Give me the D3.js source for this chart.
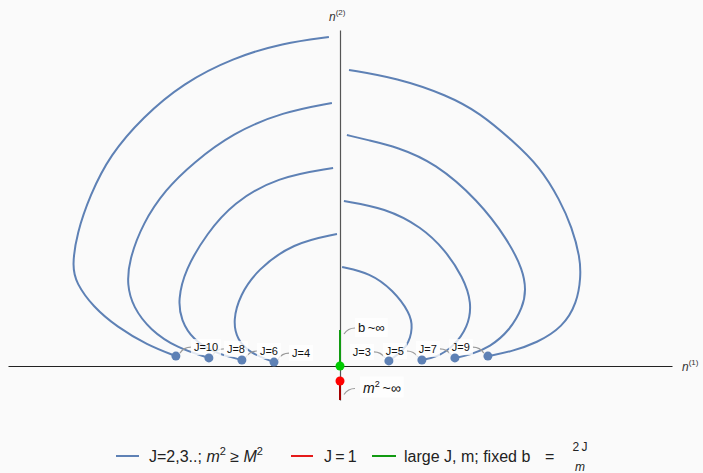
<!DOCTYPE html>
<html>
<head>
<meta charset="utf-8">
<script src="https://cdn.jsdelivr.net/npm/d3@7"></script>
<style>
  body { margin: 0; background: #fafafa; }
  svg { display: block; font-family: "Liberation Sans", Arial, sans-serif; }
</style>
</head>
<body>
<svg id="chart" width="703" height="473"></svg>
<script>
// points, [n1, n2]
const curveJ3 = [[0.07,3.30],[1.00,3.10],[1.77,2.53],[2.33,1.77],[2.43,1.30],[2.27,0.63],[1.63,0.17]];
const curveJ5 = [[0.13,5.50],[1.50,5.27],[2.73,4.63],[3.50,3.87],[4.10,2.97],[4.40,2.10],[4.27,1.30],[3.77,0.63],[3.23,0.30],[2.73,0.20]];
const curveJ7 = [[0.23,7.70],[0.93,7.53],[1.90,7.30],[3.17,6.77],[4.60,5.53],[5.60,4.20],[6.10,3.20],[6.20,2.53],[6.10,1.97],[5.67,1.20],[5.00,0.63],[4.33,0.37],[3.83,0.27]];
const curveJ9 = [[0.30,9.87],[1.90,9.60],[3.57,9.03],[4.67,8.43],[5.73,7.53],[6.67,6.63],[7.33,5.53],[7.73,4.63],[8.00,3.63],[8.03,2.97],[7.90,2.10],[7.43,1.30],[6.57,0.77],[5.67,0.47],[4.93,0.33]];
const curveJ4 = [[-0.10,4.40],[-1.57,4.10],[-2.77,3.20],[-3.33,2.37],[-3.57,1.53],[-3.43,0.87],[-3.00,0.43],[-2.20,0.13]];
const curveJ6 = [[-0.23,6.60],[-2.10,6.30],[-3.57,5.43],[-4.43,4.43],[-5.17,3.20],[-5.40,2.20],[-5.30,1.53],[-4.90,0.87],[-4.17,0.43],[-3.27,0.20]];
const curveJ8 = [[-0.27,8.77],[-1.90,8.47],[-3.57,7.77],[-4.90,6.77],[-5.83,5.87],[-6.57,4.77],[-7.03,3.53],[-7.10,2.70],[-6.90,1.97],[-6.33,1.20],[-5.43,0.60],[-4.37,0.27]];
const curveJ10 = [[-0.37,10.97],[-1.90,10.77],[-3.57,10.27],[-5.23,9.43],[-6.57,8.30],[-7.67,7.03],[-8.33,5.70],[-8.77,4.43],[-8.93,3.33],[-8.80,2.77],[-8.23,1.97],[-7.43,1.30],[-6.43,0.70],[-5.47,0.33]];

const jValues = [3, 5, 7, 9, 4, 6, 8, 10];
const jCurves = [curveJ3, curveJ5, curveJ7, curveJ9, curveJ4, curveJ6, curveJ8, curveJ10];

// J=1 point and the large-J segment
const redPoint = [0, -0.5];
const redSegment = [[0, -0.5], [0, -1.13]];
const greenPoint = [0, 0];
const greenSegment = [[0, 0], [0, 1.2]];

const blue = "#5e81b5", red = "#e51a1a", green = "#119a11";

const svg = d3.select("#chart");
const x = d3.scaleLinear().domain([-332 / 30, 332 / 30]).range([8, 672]);
const y = d3.scaleLinear().domain([-34 / 30, 336 / 30]).range([400, 30]);

// axes, no ticks
svg.append("g")
    .attr("transform", "translate(0," + y(0) + ")")
    .call(d3.axisBottom(x).tickValues([]).tickSizeOuter(0))
    .select(".domain").attr("stroke", "#222").attr("stroke-width", 1);
svg.append("g")
    .attr("transform", "translate(" + x(0) + ",0)")
    .call(d3.axisLeft(y).tickValues([]).tickSizeOuter(0))
    .select(".domain").attr("stroke", "#555").attr("stroke-width", 1.2);

// axis labels
const n2 = svg.append("text").attr("x", 329).attr("y", 21).attr("font-size", 12).attr("fill", "#333");
n2.append("tspan").attr("font-style", "italic").text("n");
n2.append("tspan").attr("font-size", 8).attr("dy", -6).text("(2)");
const n1 = svg.append("text").attr("x", 682).attr("y", 371).attr("font-size", 12).attr("fill", "#333");
n1.append("tspan").attr("font-style", "italic").text("n");
n1.append("tspan").attr("font-size", 8).attr("dy", -6).text("(1)");

const line = d3.line()
    .x(d => x(d[0]))
    .y(d => y(d[1]))
    .curve(d3.curveBasis);

svg.append("g").selectAll("path")
  .data(jCurves)
  .enter().append("path")
    .attr("d", line)
    .attr("fill", "none")
    .attr("stroke", blue)
    .attr("stroke-width", 2);

// green and red segments
svg.append("path").attr("d", line(greenSegment)).attr("stroke", green).attr("stroke-width", 2).attr("fill", "none");
svg.append("path").attr("d", line(redSegment)).attr("stroke", "#a30000").attr("stroke-width", 2).attr("fill", "none");

// callout labels
function callout(px, py, side, size, gap, build) {
  const s = side; // +1 label on the right, -1 on the left
  const g = svg.append("g");
  g.append("path")
      .attr("d", "M" + (px + s * 4) + "," + (py - 3) + " Q" + (px + s * 8) + "," + (py - 9) + " " + (px + s * 15) + "," + (py - 9))
      .attr("fill", "none").attr("stroke", "#999").attr("stroke-width", 1.2);
  const bg = g.append("rect").attr("fill", "#fff").attr("fill-opacity", 0.8);
  const t = g.append("text")
      .attr("x", px + s * gap).attr("y", py - 5)
      .attr("text-anchor", s > 0 ? "start" : "end")
      .attr("font-size", size).attr("fill", "#111");
  build(t);
  const b = t.node().getBBox();
  bg.attr("x", b.x - 3).attr("y", b.y - 2).attr("width", b.width + 6).attr("height", b.height + 4);
  return g;
}

jCurves.forEach((c, i) => {
  const end = c[c.length - 1];
  const side = jValues[i] % 2 === 0 ? 1 : -1;
  callout(x(end[0]), y(end[1]), side, 11, 18, t => t.text("J=" + jValues[i]));
});

svg.selectAll(".jdot")
  .data(jCurves)
  .enter().append("circle")
    .attr("class", "jdot")
    .attr("cx", d => x(d[d.length - 1][0]))
    .attr("cy", d => y(d[d.length - 1][1]))
    .attr("r", 4.5)
    .attr("fill", blue);

// b ~ inf and m^2 ~ inf
callout(x(0), y(1.2) + 7, 1, 13, 18, t => t.text("b\u2009~\u221e"));
callout(x(0), y(-1.05), 1, 14, 23, t => {
  t.append("tspan").attr("font-style", "italic").text("m");
  t.append("tspan").attr("font-size", 9).attr("dy", -6).text("2");
  t.append("tspan").attr("dy", 6).text("\u2009~\u221e");
});

svg.append("circle").attr("cx", x(greenPoint[0])).attr("cy", y(greenPoint[1])).attr("r", 4.5).attr("fill", "#0c0");
svg.append("circle").attr("cx", x(redPoint[0])).attr("cy", y(redPoint[1])).attr("r", 4.5).attr("fill", "#f00");

// legend
const legend = svg.append("g").attr("font-size", 16).attr("fill", "#222");
const ly = 462;
[[116, 139, blue], [291, 313, red], [372, 396, green]].forEach(d => {
  legend.append("line").attr("x1", d[0]).attr("x2", d[1]).attr("y1", ly - 6).attr("y2", ly - 6)
      .attr("stroke", d[2]).attr("stroke-width", 2);
});
const t1 = legend.append("text").attr("x", 149).attr("y", ly);
t1.append("tspan").text("J=2,3..; ");
t1.append("tspan").attr("font-style", "italic").text("m");
t1.append("tspan").attr("font-size", 11).attr("dy", -7).text("2");
t1.append("tspan").attr("dy", 7).text(" \u2265 ");
t1.append("tspan").attr("font-style", "italic").text("M");
t1.append("tspan").attr("font-size", 11).attr("dy", -7).text("2");
legend.append("text").attr("x", 324).attr("y", ly).text("J\u2009=\u20091");
legend.append("text").attr("x", 404).attr("y", ly).text("large J, m; fixed b");
legend.append("text").attr("x", 545).attr("y", ly).text("=");
legend.append("text").attr("x", 580).attr("y", 451).attr("font-size", 12).attr("text-anchor", "middle").text("2\u2009J");
legend.append("text").attr("x", 580).attr("y", 471).attr("font-size", 12).attr("font-style", "italic").attr("text-anchor", "middle").text("m");
</script>
</body>
</html>
